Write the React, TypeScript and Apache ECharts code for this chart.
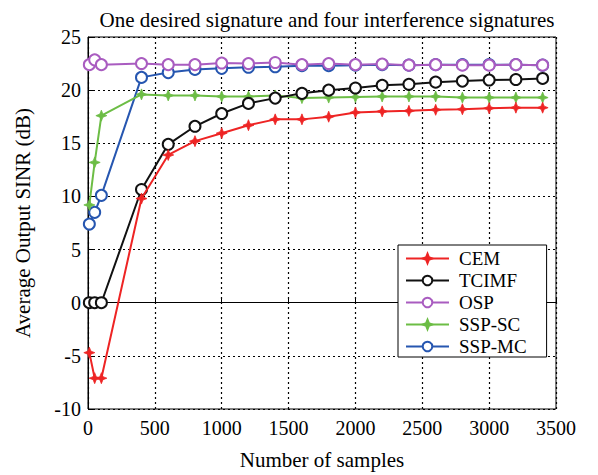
import React, { useEffect, useRef } from "react";
import * as echarts from "echarts";

const samples = [10, 50, 100, 400, 600, 800, 1000, 1200, 1400, 1600, 1800, 2000, 2200, 2400, 2600, 2800, 3000, 3200, 3400];
const cem = [-4.7, -7.1, -7.1, 9.8, 13.9, 15.2, 15.95, 16.7, 17.25, 17.25, 17.5, 17.9, 18.0, 18.05, 18.15, 18.2, 18.3, 18.35, 18.35];
const tcimf = [0, 0, 0, 10.65, 14.9, 16.6, 17.8, 18.75, 19.25, 19.7, 20.0, 20.2, 20.45, 20.55, 20.75, 20.85, 20.95, 21.0, 21.1];
const osp = [22.4, 22.85, 22.4, 22.5, 22.4, 22.4, 22.55, 22.5, 22.6, 22.4, 22.5, 22.4, 22.45, 22.35, 22.4, 22.35, 22.35, 22.4, 22.35];
const sspSc = [9.2, 13.2, 17.6, 19.6, 19.5, 19.5, 19.4, 19.4, 19.5, 19.25, 19.3, 19.35, 19.4, 19.4, 19.4, 19.3, 19.3, 19.3, 19.3];
const sspMc = [7.4, 8.5, 10.1, 21.2, 21.65, 21.95, 22.05, 22.15, 22.2, 22.3, 22.3, 22.35, 22.4, 22.35, 22.4, 22.4, 22.4, 22.4, 22.35];
const seriesNames = ["CEM", "TCIMF", "OSP", "SSP-SC", "SSP-MC"];
const colors = ["#ee2424", "#111111", "#a95cc0", "#6cbd45", "#2656b0"];
const titleText = "One desired signature and four interference signatures";

const star = "path://M0,-10 L2.8,-2.8 L10,0 L2.8,2.8 L0,10 L-2.8,2.8 L-10,0 L-2.8,-2.8 Z";
const FONT = "Liberation Serif";

export default function App() {
  const ref = useRef<HTMLDivElement>(null);
  useEffect(() => {
    if (!ref.current) return;
    const chart = echarts.init(ref.current, undefined, { renderer: "svg" });
    const all = [cem, tcimf, osp, sspSc, sspMc];
    const series = all.map((vals, i) => {
      const isStar = i === 0 || i === 3;
      return {
        name: seriesNames[i],
        type: "line",
        data: samples.map((s, k) => [s, vals[k]]),
        symbol: isStar ? star : "emptyCircle",
        symbolSize: 11,
        showAllSymbol: true,
        lineStyle: { color: colors[i], width: 2 },
        itemStyle: isStar
          ? { color: colors[i], borderColor: colors[i], borderWidth: 0.8 }
          : { color: colors[i], borderColor: colors[i], borderWidth: 2 },
        z: 10 - i,
      };
    });
    const txt = (size: number) => ({
      fontFamily: FONT,
      fontSize: size,
      fontWeight: "normal",
      fontStyle: "normal",
      color: "#000",
    });
    chart.setOption({
      animation: false,
      backgroundColor: "#fff",
      textStyle: txt(20),
      title: {
        text: titleText,
        left: 322,
        top: 4,
        textAlign: "center",
        textStyle: txt(21),
      },
      grid: { left: 88, right: 42, top: 37, bottom: 64, show: true, borderColor: "#000", borderWidth: 1, backgroundColor: "transparent" },
      legend: {
        orient: "vertical",
        left: 398,
        top: 245,
        padding: [3, 20, 0, 7],
        itemGap: 1,
        itemWidth: 43,
        itemHeight: 12,
        backgroundColor: "#fff",
        borderColor: "#000",
        borderWidth: 1,
        textStyle: { ...txt(19), lineHeight: 21, padding: [0, 0, 0, 5] },
        data: seriesNames,
      },
      xAxis: {
        type: "value",
        min: 0,
        max: 3500,
        interval: 500,
        name: "Number of samples",
        nameLocation: "middle",
        nameGap: 40,
        nameTextStyle: txt(21),
        axisLine: { show: true, lineStyle: { color: "#000", width: 1 } },
        axisTick: { show: true, inside: true, length: 5, lineStyle: { color: "#000" } },
        axisLabel: { ...txt(20), margin: 9, formatter: (v: number) => String(v) },
        splitLine: { show: true, lineStyle: { color: "#000", type: [2, 3], width: 1.2 } },
      },
      yAxis: {
        type: "value",
        min: -10,
        max: 25,
        interval: 5,
        name: "Average Output SINR (dB)",
        nameLocation: "middle",
        nameGap: 55,
        nameTextStyle: txt(21),
        axisLine: { show: true, lineStyle: { color: "#000", width: 1 } },
        axisTick: { show: true, inside: true, length: 5, lineStyle: { color: "#000" } },
        axisLabel: { ...txt(20), margin: 7, formatter: (v: number) => String(v) },
        splitLine: { show: true, lineStyle: { color: "#000", type: [2, 3], width: 1.2 } },
      },
      series,
    });
    return () => chart.dispose();
  }, []);
  return (
    <div
      ref={ref}
      style={{ position: "fixed", left: 0, top: 0, width: 598, height: 475, background: "#fff" }}
    />
  );
}
